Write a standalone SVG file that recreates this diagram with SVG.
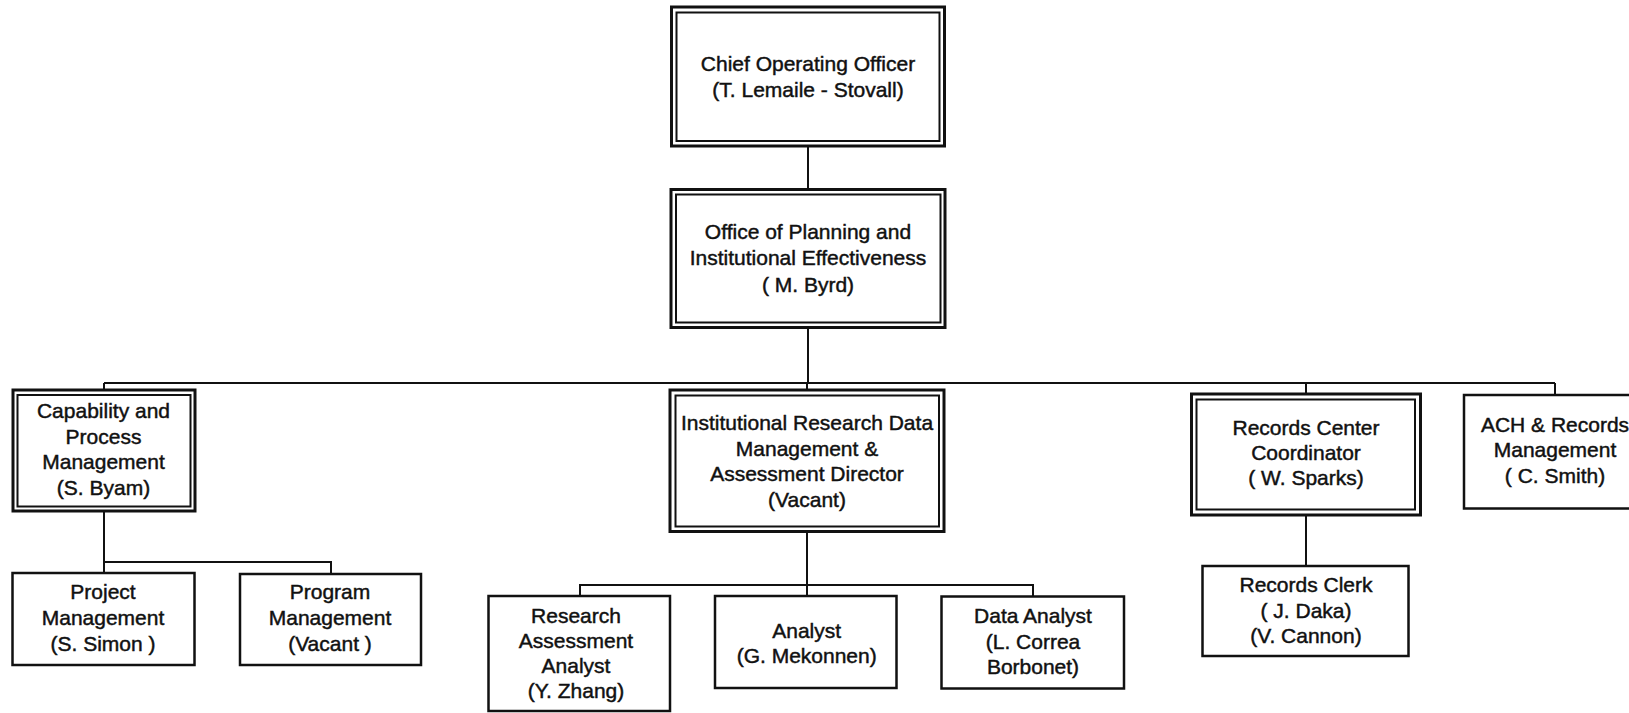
<svg xmlns="http://www.w3.org/2000/svg" width="1629" height="713" viewBox="0 0 1629 713">
<style>
.bg{fill:#fff}
.o{fill:#fff;stroke:#111;stroke-width:3}
.i{fill:none;stroke:#111;stroke-width:2}
.s{fill:#fff;stroke:#111;stroke-width:2.5}
.c{fill:none;stroke:#111;stroke-width:2}
text{font-family:"Liberation Sans",Arial,sans-serif;font-size:21px;fill:#111;stroke:#111;stroke-width:0.45;text-anchor:middle}
</style>
<rect class="bg" x="0" y="0" width="1629" height="713"/>
<g id="connectors">
<path class="c" d="M808 146 V189.5"/>
<path class="c" d="M808 327.5 V383"/>
<path class="c" d="M104 383 H1555"/>
<path class="c" d="M104 383 V390"/>
<path class="c" d="M807 383 V390"/>
<path class="c" d="M1306 383 V394"/>
<path class="c" d="M1555 383 V395"/>
<path class="c" d="M104 511 V573"/>
<path class="c" d="M104 562 H331 V574"/>
<path class="c" d="M807 531.5 V596"/>
<path class="c" d="M580 596 V585 H1033 V596.5"/>
<path class="c" d="M1306 515 V566"/>
</g>
<g id="coo">
<rect class="o" x="671.5" y="7" width="273" height="139"/>
<rect class="i" x="676.5" y="12.5" width="263" height="128.5"/>
<text x="808" y="70.7">Chief Operating Officer</text>
<text x="808" y="96.7">(T. Lemaile - Stovall)</text>
</g>
<g id="opie">
<rect class="o" x="671" y="189.5" width="274" height="138"/>
<rect class="i" x="676" y="194.5" width="264.5" height="128"/>
<text x="808" y="239.3">Office of Planning and</text>
<text x="808" y="265">Institutional Effectiveness</text>
<text x="808" y="291.7">( M. Byrd)</text>
</g>
<g id="cpm">
<rect class="o" x="13" y="390" width="182" height="121"/>
<rect class="i" x="17.5" y="395" width="173" height="111.5"/>
<text x="103.5" y="418.3">Capability and</text>
<text x="103.5" y="444">Process</text>
<text x="103.5" y="469.3">Management</text>
<text x="103.5" y="495">(S. Byam)</text>
</g>
<g id="irdm">
<rect class="o" x="670" y="390" width="274" height="141.5"/>
<rect class="i" x="675.5" y="395.5" width="263.5" height="131"/>
<text x="807" y="430">Institutional Research Data</text>
<text x="807" y="455.7">Management &amp;</text>
<text x="807" y="481">Assessment Director</text>
<text x="807" y="506.7">(Vacant)</text>
</g>
<g id="rcc">
<rect class="o" x="1191.5" y="394" width="229" height="121"/>
<rect class="i" x="1196.5" y="399.5" width="218.5" height="110"/>
<text x="1306" y="435">Records Center</text>
<text x="1306" y="460">Coordinator</text>
<text x="1306" y="485">( W. Sparks)</text>
</g>
<g id="ach">
<rect class="s" x="1464" y="395" width="182" height="113.5"/>
<text x="1555" y="431.7">ACH &amp; Records</text>
<text x="1555" y="457.3">Management</text>
<text x="1555" y="482.7">( C. Smith)</text>
</g>
<g id="project">
<rect class="s" x="12.5" y="573" width="182" height="92"/>
<text x="103" y="599.3">Project</text>
<text x="103" y="625">Management</text>
<text x="103" y="651">(S. Simon )</text>
</g>
<g id="program">
<rect class="s" x="240" y="574" width="181" height="91"/>
<text x="330" y="599.3">Program</text>
<text x="330" y="625">Management</text>
<text x="330" y="651">(Vacant )</text>
</g>
<g id="research">
<rect class="s" x="488.5" y="596" width="181.5" height="115"/>
<text x="576" y="623.3">Research</text>
<text x="576" y="648.3">Assessment</text>
<text x="576" y="673.3">Analyst</text>
<text x="576" y="698.3">(Y. Zhang)</text>
</g>
<g id="analyst">
<rect class="s" x="715" y="596" width="181.5" height="92"/>
<text x="806.7" y="638.3">Analyst</text>
<text x="806.7" y="663.3">(G. Mekonnen)</text>
</g>
<g id="data-analyst">
<rect class="s" x="941.5" y="596.5" width="182.5" height="92"/>
<text x="1033" y="623.3">Data Analyst</text>
<text x="1033" y="649.3">(L. Correa</text>
<text x="1033" y="674.3">Borbonet)</text>
</g>
<g id="clerk">
<rect class="s" x="1202.5" y="566" width="206" height="90"/>
<text x="1306" y="591.7">Records Clerk</text>
<text x="1306" y="618.3">( J. Daka)</text>
<text x="1306" y="643.3">(V. Cannon)</text>
</g>
</svg>
